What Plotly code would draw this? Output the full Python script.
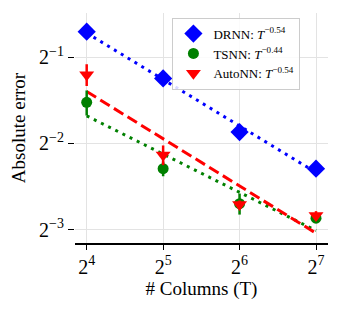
import numpy as np
import plotly.graph_objects as go

# ---- data ----
T = [16, 32, 64, 128]
drnn = [0.615, 0.422, 0.274, 0.204]
drnn_err = [0.012, 0.008, 0.005, 0.004]
tsnn = [0.348, 0.204, 0.154, 0.137]
tsnn_err = [0.035, 0.012, 0.013, 0.005]
autonn = [0.435, 0.228, 0.153, 0.140]
autonn_err = [0.038, 0.018, 0.005, 0.005]

names = ["DRNN: <i>T</i><sup>−0.54</sup>",
         "TSNN: <i>T</i><sup>−0.44</sup>",
         "AutoNN: <i>T</i><sup>−0.54</sup>"]
colors = ["#0000ff", "#008000", "#ff0000"]
symbols = ["diamond", "circle", "triangle-down"]
msizes = [14, 11, 13]
dashes = ["3px,5px", "3px,5px", "11px,5px"]

xtick_vals = [16, 32, 64, 128]
xtick_text = ["2<sup>4</sup>", "2<sup>5</sup>", "2<sup>6</sup>", "2<sup>7</sup>"]
ytick_vals = [0.125, 0.25, 0.5]
ytick_text = ["2<sup>−3</sup>", "2<sup>−2</sup>", "2<sup>−1</sup>"]

FONT = "Liberation Serif"

fig = go.Figure()
series = [(drnn, drnn_err), (tsnn, tsnn_err), (autonn, autonn_err)]

# fit lines (least squares in log-log space)
lx = np.log2(T)
for (vals, _), c, d in zip(series, colors, dashes):
    k, b = np.polyfit(lx, np.log2(vals), 1)
    fx = [T[0], T[-1]]
    fy = [2 ** (b + k * np.log2(T[0])), 2 ** (b + k * np.log2(T[-1]))]
    fig.add_trace(go.Scatter(x=fx, y=fy, mode="lines", showlegend=False,
                             line=dict(color=c, width=3, dash=d)))

for (vals, err), c, s, ms, n in zip(series, colors, symbols, msizes, names):
    fig.add_trace(go.Scatter(
        x=T, y=vals, mode="markers", name=n,
        marker=dict(color=c, symbol=s, size=ms, line=dict(width=0)),
        error_y=dict(type="data", array=err, visible=True, color=c,
                     thickness=2.5, width=0)))

fig.update_layout(
    width=341, height=309,
    margin=dict(l=75, r=13, t=13, b=66, autoexpand=False),
    paper_bgcolor="white", plot_bgcolor="white",
    font=dict(family=FONT, color="black", size=15),
    legend=dict(x=0.385, y=0.98, xanchor="left", yanchor="top",
                bgcolor="rgba(255,255,255,0.85)", bordercolor="#cccccc",
                borderwidth=1, font=dict(size=13, family=FONT),
                itemwidth=30, tracegroupgap=0),
    xaxis=dict(type="log", range=[np.log10(2) * 3.847, np.log10(2) * 7.157],
               automargin=False,
               tickvals=xtick_vals, ticktext=xtick_text,
               showgrid=True, gridcolor="#e3e3e3", gridwidth=1,
               showline=True, linecolor="black", linewidth=1.5,
               ticks="outside", ticklen=5, tickwidth=1.3, tickcolor="black",
               tickfont=dict(size=20), zeroline=False,
               title=dict(text="# Columns (T)", font=dict(size=19), standoff=3)),
    yaxis=dict(type="log", range=[np.log10(2) * -3.156, np.log10(2) * -0.485],
               automargin=False,
               tickvals=ytick_vals, ticktext=ytick_text,
               showgrid=True, gridcolor="#e3e3e3", gridwidth=1,
               showline=False, ticks="outside", ticklen=6, tickwidth=1.3,
               tickcolor="black", tickfont=dict(size=20), zeroline=False,
               title=dict(text="Absolute error", font=dict(size=19), standoff=8)),
)

fig.write_html("out.html", config={"displayModeBar": False},
               post_script="document.body.style.margin='0';")
